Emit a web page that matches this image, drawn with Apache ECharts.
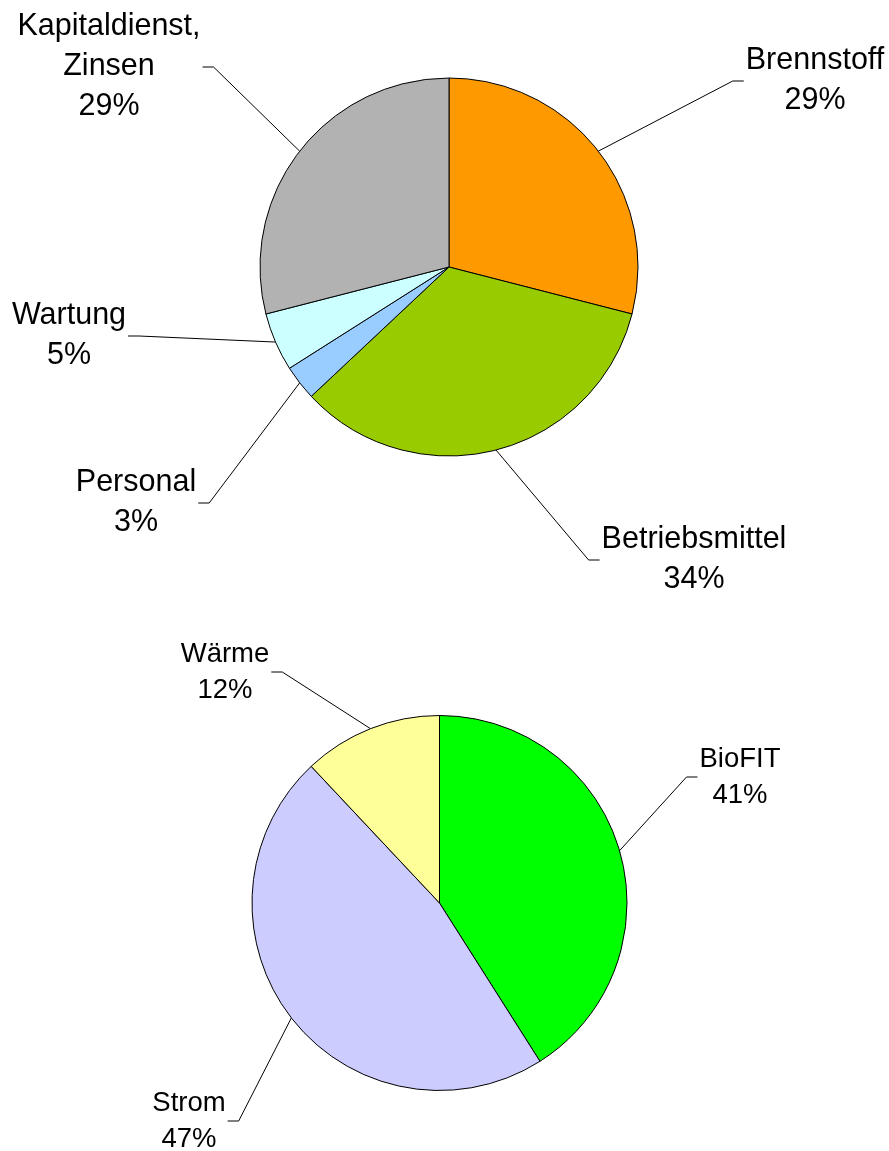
<!DOCTYPE html>
<html>
<head>
<meta charset="utf-8">
<script src="https://cdn.jsdelivr.net/npm/echarts@6/dist/echarts.min.js"></script>
<style>
  html, body { margin: 0; padding: 0; background: #fff; }
  #chart { width: 889px; height: 1151px; }
</style>
</head>
<body>
<div id="chart"></div>
<script>
// Kosten (oberes Diagramm)
var costNames = ['Brennstoff', 'Betriebsmittel', 'Personal', 'Wartung', 'Kapitaldienst,\nZinsen'];
var costValues = [29, 34, 3, 5, 29];
var costColors = ['#FF9900', '#99CC00', '#99CCFF', '#CCFFFF', '#B2B2B2'];

// Erlöse (unteres Diagramm)
var revenueNames = ['BioFIT', 'Strom', 'Wärme'];
var revenueValues = [41, 47, 12];
var revenueColors = ['#00FF00', '#CCCCFF', '#FFFF99'];

// label centres (px)
var costLabelPos = [[815, 81], [694, 560], [136, 503], [69, 336], [109, 67]];
var revenueLabelPos = [[740, 777], [189, 1121], [225, 672]];

function toData(names, values, colors) {
  return names.map(function (n, i) {
    return { name: n, value: values[i], itemStyle: { color: colors[i] } };
  });
}

function makePie(center, radius, data, pos, fontSize, lineHeight) {
  return {
    type: 'pie',
    center: center,
    radius: radius,
    startAngle: 90,
    clockwise: true,
    avoidLabelOverlap: false,
    data: data,
    itemStyle: { borderColor: '#000', borderWidth: 1 },
    label: {
      show: true,
      position: 'outside',
      formatter: '{b}\n{d}%',
      color: '#000',
      fontFamily: 'Liberation Sans, Arial, sans-serif',
      fontSize: fontSize,
      lineHeight: lineHeight,
      align: 'center'
    },
    labelLine: {
      show: true,
      length: 20,
      length2: 11,
      smooth: false,
      minTurnAngle: 0,
      lineStyle: { color: '#000', width: 1 }
    },
    labelLayout: function (params) {
      var p = pos[params.dataIndex];
      var out = { x: p[0], y: p[1], align: 'center', verticalAlign: 'middle' };
      var pts = params.labelLinePoints;
      if (pts && pts[0]) {
        // guide line: slice edge -> short horizontal stub at label's middle side
        var a = pts[0];
        var side = p[0] < a[0] ? 1 : -1;
        var edge = p[0] + side * (params.labelRect.width / 2 + 2);
        out.labelLinePoints = [[a[0], a[1]], [edge + side * 11, p[1]], [edge, p[1]]];
      }
      return out;
    },
    emphasis: { disabled: true }
  };
}

var chart = echarts.init(document.getElementById('chart'));
chart.setOption({
  animation: false,
  backgroundColor: '#fff',
  series: [
    makePie([449, 267], 189, toData(costNames, costValues, costColors), costLabelPos, 30.5, 40),
    makePie([439.5, 903], 187.5, toData(revenueNames, revenueValues, revenueColors), revenueLabelPos, 27.5, 36)
  ]
});
</script>
</body>
</html>
